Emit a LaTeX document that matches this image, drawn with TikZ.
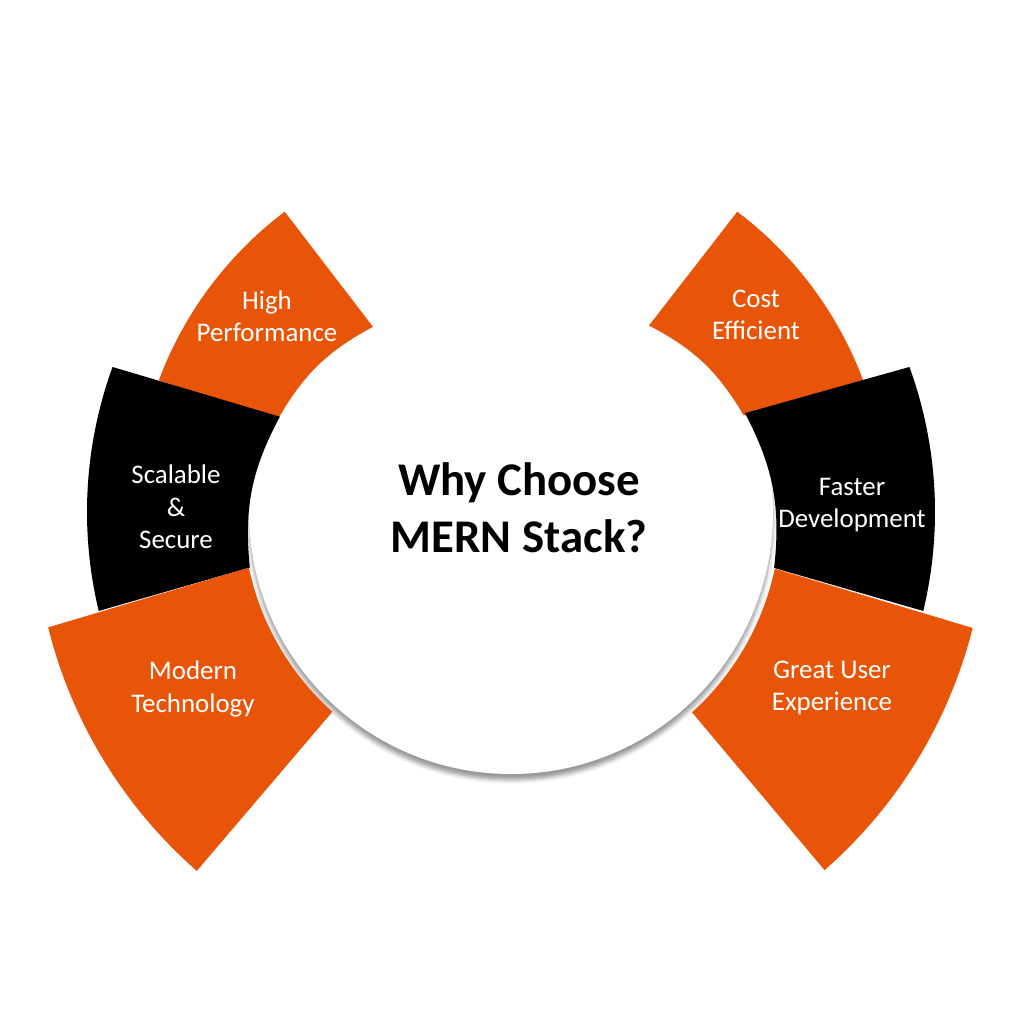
\documentclass[tikz,border=0pt]{standalone}
\usepackage{fontspec}
\setmainfont{Carlito}
\usepackage{xcolor}
\usepackage{tikz}
\usetikzlibrary{shadows.blur}

\definecolor{mernorange}{RGB}{233,85,8}

\begin{document}
\begin{tikzpicture}[x=1bp, y=1bp,
    every node/.style={align=center, text=white, font=\fontsize{27}{32.5}\selectfont},
    orangepart/.style={fill=mernorange},
    blackpart/.style={fill=black},
    hub/.style={fill=white, blur shadow={shadow xshift=0bp, shadow yshift=-6bp, shadow blur radius=4bp, shadow opacity=40}},
    title/.style={text=black, font=\fontsize{47}{57}\selectfont\bfseries}]

    \useasboundingbox (-511,-512) rectangle (513,512);

    % Centre disc
    \path[hub] (0,0) circle (262);

    % Upper parts
    \fill[orangepart] (127:376) arc[start angle=127, end angle=159.5, radius=376]
        -- (158.5:251) to[bend left=16] (126.7:231) -- cycle;
    \fill[orangepart] (53:376) arc[start angle=53, end angle=20.5, radius=376]
        -- (22.5:252) to[bend right=16] (53.5:232) -- cycle;

    % Middle parts
    \fill[blackpart] (160:424) arc[start angle=160, end angle=193.5, radius=424]
        -- (192:267) to[bend left=17] (157.6:250) -- cycle;
    \fill[blackpart] (20:424) arc[start angle=20, end angle=-13.5, radius=424]
        -- (-12:269) to[bend right=17] (22.9:254) -- cycle;

    % Lower parts
    \fill[orangepart] (194:477) arc[start angle=194, end angle=228.8, radius=477]
        -- (228.2:268) arc[start angle=228.2, end angle=192, radius=268] -- cycle;
    \fill[orangepart] (-14.1:476) arc[start angle=-14.1, end angle=-48.8, radius=476]
        -- (-47.9:270) arc[start angle=-47.9, end angle=-12, radius=269] -- cycle;

    % Labels
    \node (perf) at (-244,196) {High\\Performance};
    \node (cost) at (245,197) {Cost\\Efficient};
    \node (scale) at (-335,5) {Scalable\\\&\\Secure};
    \node (fast) at (341,7) {Faster\\Development};
    \node (modern) at (-318,-177) {Modern\\Technology};
    \node (ux) at (321,-176) {Great User\\Experience};
    \node[title] (why) at (8,4) {Why Choose\\MERN Stack?};
\end{tikzpicture}
\end{document}
